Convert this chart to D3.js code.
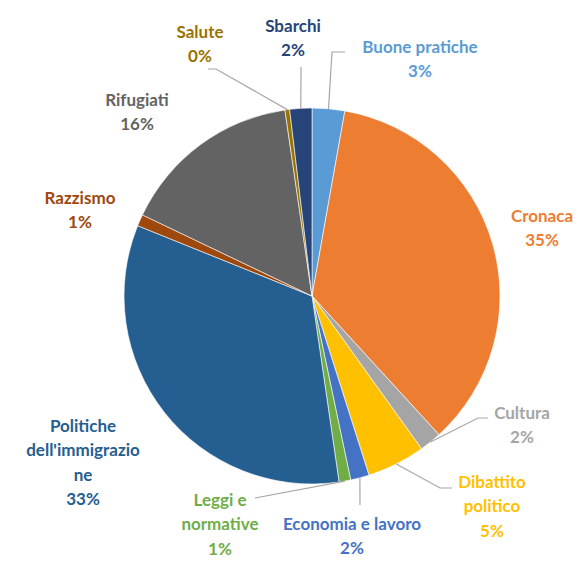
<!DOCTYPE html>
<html>
<head>
<meta charset="utf-8">
<script src="https://cdn.jsdelivr.net/npm/d3@7"></script>
<style>
  body { margin: 0; background: #fff; }
  text { font-family: Lato, "Open Sans", sans-serif; font-weight: bold; }
</style>
</head>
<body>
<script>
var w = 581;
var h = 561;

// categories and share of articles (%), clockwise from 12 o'clock
var categories = ["Buone pratiche", "Cronaca", "Cultura", "Dibattito politico",
  "Economia e lavoro", "Leggi e normative", "Politiche dell'immigrazione",
  "Razzismo", "Rifugiati", "Salute", "Sbarchi"];
var values = [2.8, 35.4, 1.9, 5.0, 1.6, 1.0, 33.4, 1.0, 15.6, 0.4, 1.9];
var colors = ["#5B9BD5", "#ED7D31", "#A5A5A5", "#FFC000", "#4472C4", "#70AD47",
  "#255E91", "#9E480E", "#636363", "#997300", "#264478"];
// how each label is broken into lines (as in the original)
var labelLines = [["Buone pratiche"], ["Cronaca"], ["Cultura"], ["Dibattito", "politico"],
  ["Economia e lavoro"], ["Leggi e", "normative"], ["Politiche", "dell'immigrazio", "ne"],
  ["Razzismo"], ["Rifugiati"], ["Salute"], ["Sbarchi"]];

// layout: label centre (first line) relative to pie centre, and leader-line elbows
var labelPos = [[108, -249], [230, -80], [210, 117], [180, 186],
  [40, 228], [-92, 204], [-229, 130], [-232, -98], [-175, -196], [-112, -264], [-19, -270]];
var leaders = [
  [[20, -244], [33, -244]],
  null,
  [[166, 122], [176, 122]],
  [[128, 192], [140, 192]],
  [[48, 209]],
  [[-57, 202]],
  null, null, null,
  [[-96, -227], [-104, -227]],
  [[-11, -229]]
];

var cx = 312, cy = 296, r = 188;
var lineH = 24.5;

var svg = d3.select("body").append("svg")
  .attr("width", w)
  .attr("height", h);

var g = svg.append("g").attr("transform", "translate(" + cx + "," + cy + ")");

var pie = d3.pie().sort(null).value(function(d) { return d; });
var arcs = pie(values);
var arc = d3.arc().innerRadius(0).outerRadius(r);
var edge = d3.arc().innerRadius(r).outerRadius(r);

g.selectAll("path.slice")
  .data(arcs)
  .enter().append("path")
  .attr("class", "slice")
  .attr("d", arc)
  .attr("fill", function(d, i) { return colors[i]; })
  .attr("stroke", "#fff")
  .attr("stroke-width", 0.6);

// leader lines
arcs.forEach(function(d, i) {
  if (!leaders[i]) return;
  var pts = [edge.centroid(d)].concat(leaders[i]);
  g.append("path")
    .attr("d", d3.line()(pts))
    .attr("fill", "none")
    .attr("stroke", "#A6A6A6")
    .attr("stroke-width", 1.2);
});

// labels
var fmt = function(v) { return Math.round(v) + "%"; };
arcs.forEach(function(d, i) {
  var lines = labelLines[i].concat([fmt(values[i])]);
  var t = g.append("text")
    .attr("text-anchor", "middle")
    .attr("font-size", "17px")
    .attr("fill", colors[i]);
  lines.forEach(function(s, k) {
    t.append("tspan")
      .attr("x", labelPos[i][0])
      .attr("y", labelPos[i][1] + k * lineH)
      .attr("dy", "0.35em")
      .text(s);
  });
});
</script>
</body>
</html>
